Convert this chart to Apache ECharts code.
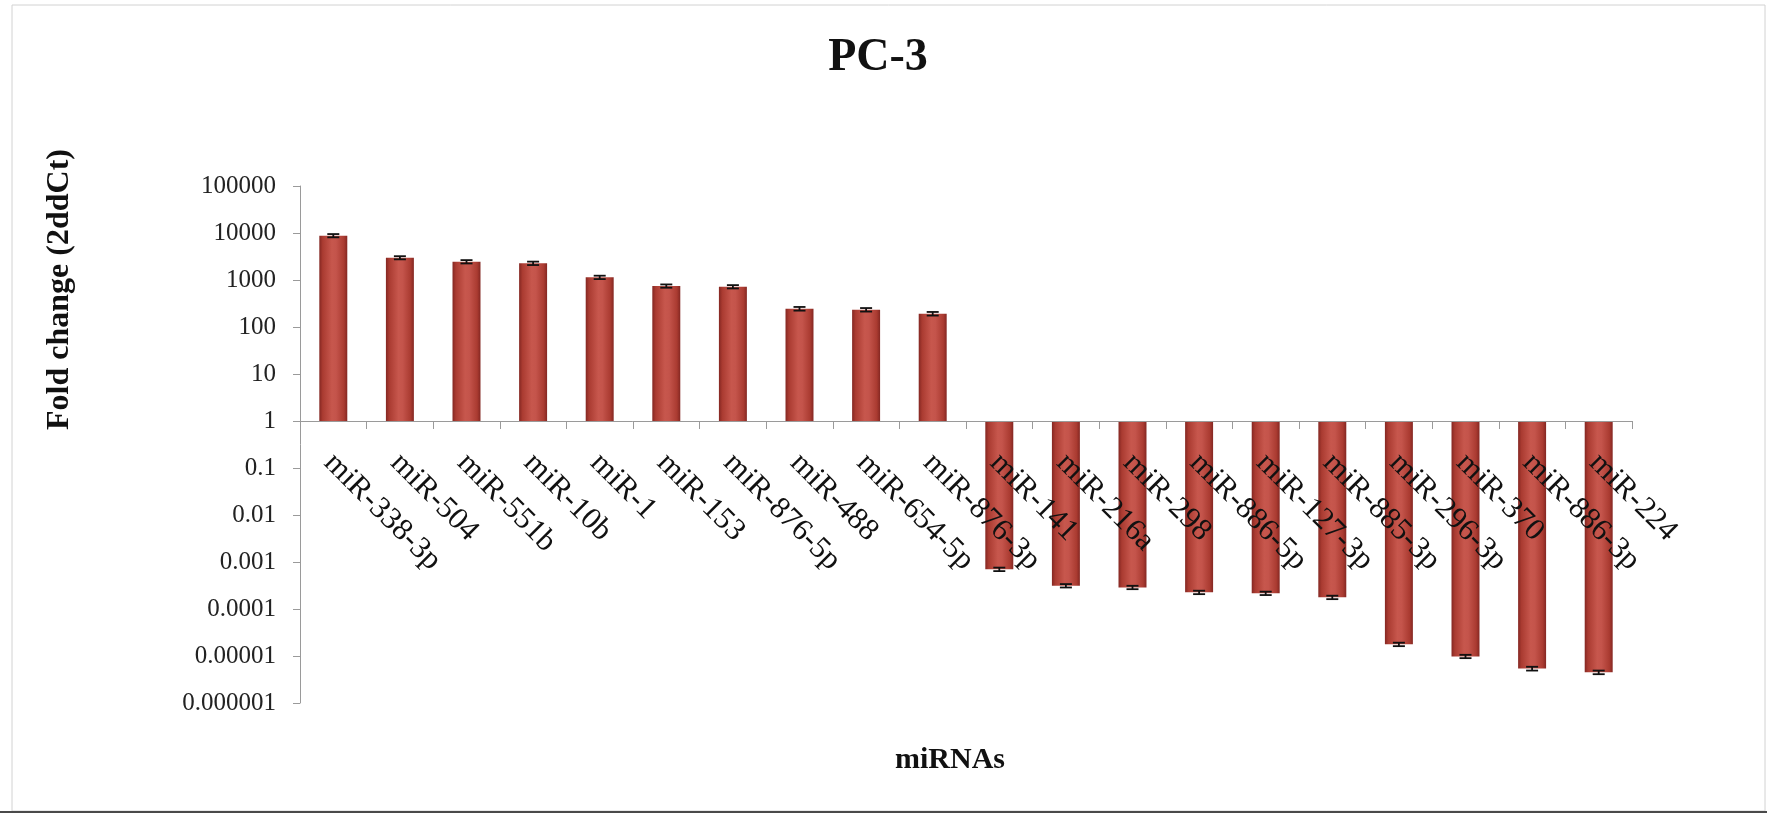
<!DOCTYPE html>
<html>
<head>
<meta charset="utf-8">
<title>PC-3</title>
<script src="https://cdn.jsdelivr.net/npm/echarts@6/dist/echarts.min.js"></script>
<style>
  html, body { margin: 0; padding: 0; background: #ffffff; }
  #chart { width: 1767px; height: 813px; }
</style>
</head>
<body>
<div id="chart"></div>
<script>
// miRNAs measured in PC-3 cells
const categories = [
  'miR-338-3p', 'miR-504', 'miR-551b', 'miR-10b', 'miR-1',
  'miR-153', 'miR-876-5p', 'miR-488', 'miR-654-5p', 'miR-876-3p',
  'miR-141', 'miR-216a', 'miR-298', 'miR-886-5p', 'miR-127-3p',
  'miR-885-3p', 'miR-296-3p', 'miR-370', 'miR-886-3p', 'miR-224'
];

// Fold change (2^-ddCt) per miRNA
const foldChange = [
  8790, 2980, 2450, 2270, 1140,
  745, 720, 245, 233, 192,
  7.0e-4, 3.13e-4, 2.88e-4, 2.26e-4, 2.16e-4,
  1.77e-4, 1.77e-5, 9.8e-6, 5.4e-6, 4.5e-6
];

// Error (± one unit) per miRNA
const foldError = [
  700, 230, 200, 190, 95,
  60, 58, 22, 20, 17,
  6.0e-5, 2.6e-5, 2.4e-5, 1.9e-5, 1.8e-5,
  1.5e-5, 1.5e-6, 8.0e-7, 5.0e-7, 4.0e-7
];

// Tick labels of the logarithmic value axis, bottom to top
const yTickLabels = [
  '0.000001', '0.00001', '0.0001', '0.001', '0.01', '0.1',
  '1', '10', '100', '1000', '10000', '100000'
];

const serif = "'Liberation Serif', 'Times New Roman', Times, serif";

const errorData = foldChange.map((v, i) => [i, v - foldError[i], v + foldError[i]]);

const barGradient = new echarts.graphic.LinearGradient(0, 0, 1, 0, [
  { offset: 0, color: '#842722' },
  { offset: 0.12, color: '#aa3b31' },
  { offset: 0.45, color: '#c7574d' },
  { offset: 0.6, color: '#c4544b' },
  { offset: 0.88, color: '#aa3b31' },
  { offset: 1, color: '#842722' }
]);

const chart = echarts.init(document.getElementById('chart'), null, { renderer: 'canvas' });

chart.setOption({
  backgroundColor: '#ffffff',
  animation: false,
  title: {
    text: 'PC-3',
    left: 873,
    top: 30,
    textAlign: 'center',
    textStyle: { fontFamily: serif, fontWeight: 'bold', fontSize: 46, color: '#111111' }
  },
  graphic: [
    {
      type: 'rect',
      shape: { x: 12, y: 5, width: 1753, height: 806 },
      style: { fill: 'none', stroke: '#d2d2d2', lineWidth: 1 },
      silent: true,
      z: -1
    },
    {
      type: 'line',
      shape: { x1: 0, y1: 812, x2: 1767, y2: 812 },
      style: { stroke: '#4a4a4a', lineWidth: 2 },
      silent: true
    }
  ],
  grid: {
    left: 300,
    right: 135,
    top: 186,
    bottom: 110,
    containLabel: false,
    outerBoundsMode: 'none'
  },
  xAxis: {
    type: 'category',
    data: categories,
    offset: -282,
    z: 5,
    name: 'miRNAs',
    nameLocation: 'middle',
    nameGap: 324,
    nameTextStyle: {
      fontFamily: serif, fontWeight: 'bold', fontSize: 30, color: '#111111',
      padding: [0, 32, 0, 0]
    },
    axisLine: { show: true, lineStyle: { color: '#9a9a9a', width: 1 } },
    axisTick: { show: true, length: 8, lineStyle: { color: '#9a9a9a' } },
    axisLabel: {
      interval: 0,
      rotate: -45,
      align: 'left',
      verticalAlign: 'top',
      margin: 20,
      padding: [0, 0, 0, 9],
      fontFamily: serif,
      fontSize: 31,
      color: '#111111'
    }
  },
  yAxis: {
    type: 'log',
    logBase: 10,
    min: 0.000001,
    max: 100000,
    interval: 1,
    name: 'Fold change (2ddCt)',
    nameLocation: 'middle',
    nameRotate: 90,
    nameGap: 224,
    nameTextStyle: {
      fontFamily: serif, fontWeight: 'bold', fontSize: 32, color: '#111111',
      padding: [0, 0, 0, 310]
    },
    axisLine: { show: true, lineStyle: { color: '#9a9a9a', width: 1 } },
    axisTick: { show: true, length: 7, lineStyle: { color: '#9a9a9a' } },
    splitLine: { show: false },
    axisLabel: {
      margin: 24,
      fontFamily: serif,
      fontSize: 25,
      color: '#222222',
      formatter: (value) => yTickLabels[Math.round(Math.log10(value)) + 6]
    }
  },
  series: [
    {
      type: 'bar',
      name: 'Fold change',
      data: foldChange,
      barWidth: '42%',
      itemStyle: { color: barGradient },
      z: 2
    },
    {
      type: 'custom',
      name: 'Error',
      data: errorData,
      encode: { x: 0, y: [1, 2] },
      z: 3,
      renderItem: (params, api) => {
        const i = api.value(0);
        const lo = api.coord([i, api.value(1)]);
        const hi = api.coord([i, api.value(2)]);
        const hw = 6;
        const style = { stroke: '#111111', lineWidth: 1.8 };
        return {
          type: 'group',
          children: [
            { type: 'line', shape: { x1: lo[0], y1: lo[1], x2: hi[0], y2: hi[1] }, style },
            { type: 'line', shape: { x1: lo[0] - hw, y1: lo[1], x2: lo[0] + hw, y2: lo[1] }, style },
            { type: 'line', shape: { x1: hi[0] - hw, y1: hi[1], x2: hi[0] + hw, y2: hi[1] }, style }
          ]
        };
      }
    }
  ]
});
</script>
</body>
</html>
